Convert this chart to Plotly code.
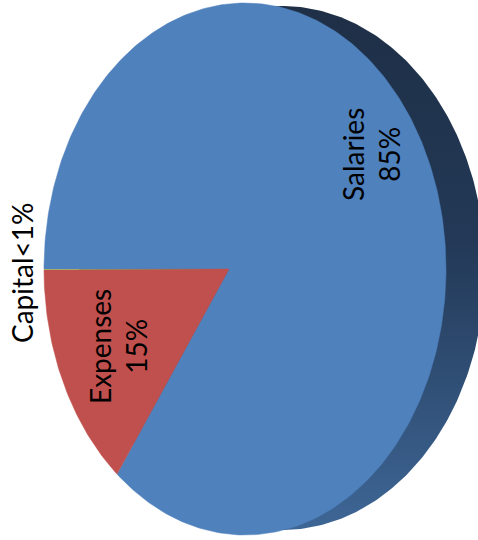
import numpy as np
import plotly.graph_objects as go

# Budget split
categories = ["Salaries", "Expenses", "Capital"]
values = [85, 15, 0.05]
colors = ["#4F81BD", "#C0504D", "#9BBB59"]

# Label anchor points (canvas px) for each slice's rotated label
label_x = [371, 118, 22]
label_y = [155, 347, 273]

W, H = 478, 540

# Tilted 3D pie: top face ellipse, its hub, and the base ellipse seen behind it
cx, cy, a, b = 245, 269, 201, 266
hub_x, hub_y = 229, 269
bx, by, ba, bb = 282, 268, 203, 262


def rim_point(theta):
    """Cast a ray from the hub along the projected pie angle to the face rim."""
    dx, dy = a * np.cos(theta), b * np.sin(theta)
    ox, oy = hub_x - cx, hub_y - cy
    qa = (dx / a) ** 2 + (dy / b) ** 2
    qb = 2 * (ox * dx / a ** 2 + oy * dy / b ** 2)
    qc = (ox / a) ** 2 + (oy / b) ** 2 - 1
    k = (-qb + np.sqrt(qb ** 2 - 4 * qa * qc)) / (2 * qa)
    return hub_x + k * dx, hub_y + k * dy


total = sum(values)
shares = [v / total for v in values]

fig = go.Figure()

# Side wall (base ellipse with a dark vertical gradient)
t = np.linspace(0, 2 * np.pi, 400)
fig.add_trace(go.Scatter(
    x=bx + ba * np.cos(t), y=by + bb * np.sin(t),
    mode="lines", fill="toself", line=dict(width=0),
    fillgradient=dict(type="vertical", start=0, stop=H,
                      colorscale=[[0, "#1E2F46"], [0.45, "#233957"], [1, "#3F6898"]]),
    hoverinfo="skip", showlegend=False,
))

# Top face slices, starting at the left edge and running clockwise
start = np.pi
for cat, s, col in zip(categories, shares, colors):
    end = start + 2 * np.pi * s
    th = np.linspace(start, end, max(3, int(400 * s)))
    rx, ry = rim_point(th)
    xs = np.concatenate([[hub_x], rx, [hub_x]])
    ys = np.concatenate([[hub_y], ry, [hub_y]])
    fig.add_trace(go.Scatter(
        x=xs, y=ys, mode="lines", fill="toself",
        line=dict(width=0.5 if s > 0.01 else 0, color=col), fillcolor=col,
        name=cat, hoverinfo="name", showlegend=False,
    ))
    start = end

# Rotated category / percentage labels
for cat, s, lx, ly in zip(categories, shares, label_x, label_y):
    pct = s * 100
    txt = f"{cat}<br>{round(pct)}%" if pct >= 1 else f"{cat}<1%"
    fig.add_annotation(
        x=lx, y=ly, text=txt, showarrow=False, textangle=-90,
        xanchor="center", yanchor="middle",
        font=dict(family="Lato, Open Sans, sans-serif", size=28, color="#000000"),
    )

fig.update_xaxes(range=[0, W], visible=False, fixedrange=True)
fig.update_yaxes(range=[H, 0], visible=False, fixedrange=True)
fig.update_layout(
    width=W, height=H, margin=dict(l=0, r=0, t=0, b=0),
    paper_bgcolor="white", plot_bgcolor="white",
)

fig.write_html("out.html")
